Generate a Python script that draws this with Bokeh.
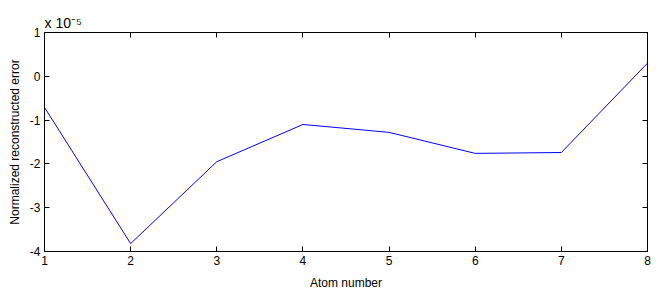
from bokeh.plotting import figure
from bokeh.models import LinearAxis, FixedTicker, Range1d
from bokeh.embed import file_html
from bokeh.resources import INLINE

atoms = [1, 2, 3, 4, 5, 6, 7, 8]
error_e5 = [-0.71, -3.82, -1.95, -1.10, -1.28, -1.76, -1.74, 0.30]  # in units of 1e-5
x_ticks = [1, 2, 3, 4, 5, 6, 7, 8]
y_ticks = [-4, -3, -2, -1, 0, 1]
scale_text = "x 10\u207b\u2075"

FONT = "Liberation Sans"
FW, FH = 603, 219

p = figure(frame_width=FW, frame_height=FH, output_backend="svg", toolbar_location=None,
           x_range=Range1d(1, 8), y_range=Range1d(-4, 1),
           min_border_left=44, min_border_right=10, min_border_top=32, min_border_bottom=34,
           x_axis_label="Atom number", y_axis_label="Normalized reconstructed error",
           title=scale_text)
p.grid.visible = False
p.outline_line_color = "black"
p.outline_line_width = 1
p.background_fill_color = "white"
p.border_fill_color = "white"

p.title.text_font = FONT
p.title.text_font_size = "14px"
p.title.text_font_style = "normal"
p.title.text_color = "black"
p.title.align = "left"
p.title.offset = 0
p.title.standoff = 4

p.line(atoms, error_e5, line_color="#0000ff", line_width=1)

def style(ax, ticks, labels=True):
    ax.ticker = FixedTicker(ticks=ticks)
    ax.major_tick_in = 5
    ax.major_tick_out = 0
    ax.minor_tick_line_color = None
    ax.axis_line_color = "black"
    ax.major_tick_line_color = "black"
    ax.major_label_text_font = FONT
    ax.major_label_text_font_size = "12px"
    ax.major_label_text_color = "black"
    ax.axis_label_text_font = FONT
    ax.axis_label_text_font_size = "12px"
    ax.axis_label_text_font_style = "normal"
    ax.axis_label_text_color = "black"
    if labels:
        ax.major_label_overrides = {t: str(t) for t in ticks}
    else:
        ax.major_label_overrides = {t: "" for t in ticks}
        ax.major_label_standoff = 0

style(p.xaxis[0], x_ticks)
style(p.yaxis[0], y_ticks)
p.xaxis[0].major_label_standoff = 4
p.xaxis[0].axis_label_standoff = 8
p.yaxis[0].major_label_standoff = 4
p.yaxis[0].axis_label_standoff = 5

top = LinearAxis()
style(top, x_ticks, labels=False)
p.add_layout(top, "above")
right = LinearAxis()
style(right, y_ticks, labels=False)
p.add_layout(right, "right")

open("out.html", "w").write(file_html(p, INLINE))
